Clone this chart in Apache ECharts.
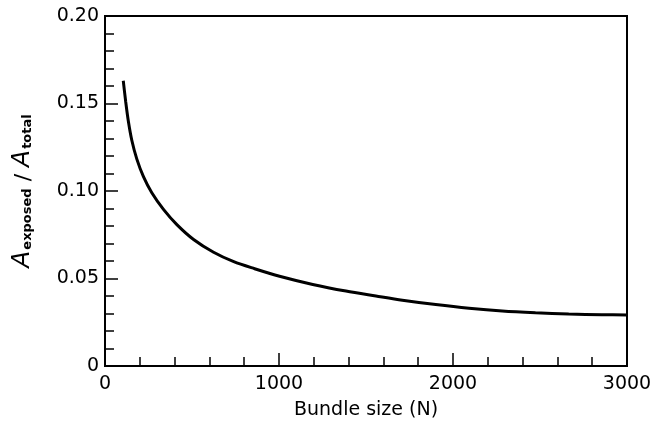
<!DOCTYPE html>
<html>
<head>
<meta charset="utf-8">
<script src="https://cdn.jsdelivr.net/npm/echarts@6/dist/echarts.min.js"></script>
<style>
  html, body { margin: 0; padding: 0; background: #fff; }
  #chart { width: 669px; height: 426px; }
</style>
</head>
<body>
<div id="chart"></div>
<script>
// Bundle size N and fraction of exposed area
const bundleSize = [105, 119, 134, 154, 183, 221, 269, 336, 413, 509, 624, 740, 860, 1003, 1194, 1385, 1557, 1709, 1901, 2092, 2283, 2474, 2665, 2856, 3000];
const exposedFraction = [0.163, 0.151, 0.140, 0.129, 0.1182, 0.1082, 0.0990, 0.0895, 0.0808, 0.0723, 0.0650, 0.0596, 0.0556, 0.0513, 0.0466, 0.0428, 0.0400, 0.0376, 0.0351, 0.0330, 0.0314, 0.0304, 0.0297, 0.0293, 0.0292];
const yTickLabels = { 0: '0', 0.05: '0.05', 0.1: '0.10', 0.15: '0.15', 0.2: '0.20' };

const FONT = 'DejaVu Sans';
const chart = echarts.init(document.getElementById('chart'), null, { renderer: 'canvas' });

chart.setOption({
  animation: false,
  backgroundColor: '#fff',
  grid: {
    left: 105, right: 42, top: 16, bottom: 60,
    show: true, borderColor: '#000', borderWidth: 2, backgroundColor: 'transparent'
  },
  xAxis: {
    type: 'value', min: 0, max: 3000, interval: 1000,
    name: 'Bundle size (N)', nameLocation: 'middle', nameGap: 35,
    nameTextStyle: { color: '#000', fontFamily: FONT, fontSize: 19 },
    axisLine: { show: true, lineStyle: { color: '#000', width: 2 } },
    axisTick: { show: true, inside: true, length: 13, lineStyle: { color: '#000', width: 1.5 } },
    minorTick: { show: true, splitNumber: 5, length: 9, lineStyle: { color: '#000', width: 1.5 } },
    axisLabel: { color: '#000', fontFamily: FONT, fontSize: 19, margin: 9, formatter: v => String(v) },
    splitLine: { show: false }
  },
  yAxis: {
    type: 'value', min: 0, max: 0.2, interval: 0.05,
    name: '{a|A}{s|exposed}{d| / }{a|A}{s|total}',
    nameLocation: 'middle', nameGap: 70, nameRotate: 90,
    nameTextStyle: {
      color: '#000', fontFamily: FONT,
      rich: {
        a: { fontSize: 25, fontStyle: 'italic', fontFamily: FONT, color: '#000', lineHeight: 28, verticalAlign: 'bottom' },
        s: { fontSize: 13, fontWeight: 'bold', fontFamily: FONT, color: '#000', lineHeight: 13, verticalAlign: 'bottom', padding: [0, 0, 1, 1] },
        d: { fontSize: 22, fontFamily: FONT, color: '#000', lineHeight: 28, verticalAlign: 'bottom' }
      }
    },
    axisLine: { show: true, lineStyle: { color: '#000', width: 2 } },
    axisTick: { show: true, inside: true, length: 13, lineStyle: { color: '#000', width: 1.5 } },
    minorTick: { show: true, splitNumber: 5, length: 9, lineStyle: { color: '#000', width: 1.5 } },
    axisLabel: {
      color: '#000', fontFamily: FONT, fontSize: 19, margin: 6,
      formatter: v => yTickLabels[Math.round(v * 100) / 100] ?? ''
    },
    splitLine: { show: false }
  },
  series: [{
    type: 'line',
    data: bundleSize.map((n, i) => [n, exposedFraction[i]]),
    smooth: 0.3,
    showSymbol: false,
    lineStyle: { color: '#000', width: 3 }
  }]
});
</script>
</body>
</html>
